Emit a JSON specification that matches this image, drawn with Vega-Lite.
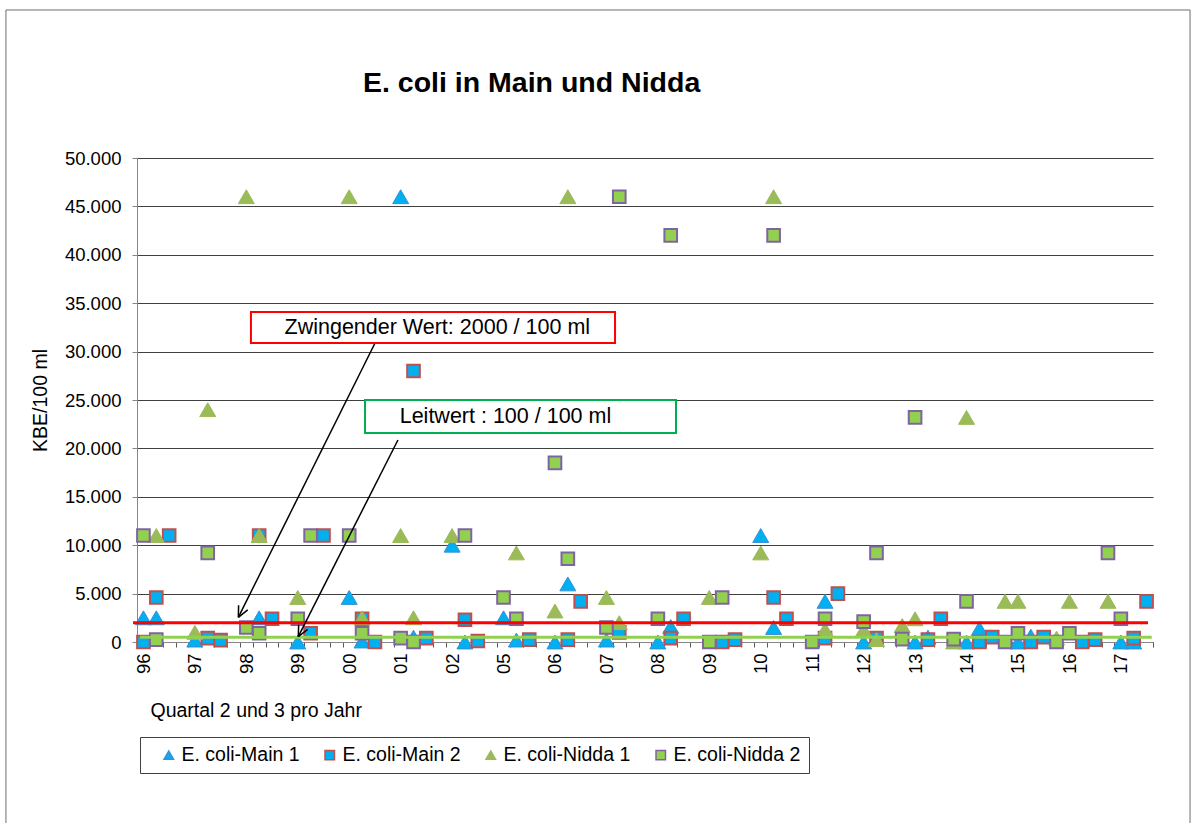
{
  "$schema": "https://vega.github.io/schema/vega-lite/v6.json",
  "width": 1016,
  "height": 484,
  "autosize": {"type": "none"},
  "padding": {"left": 137, "top": 158, "right": 44, "bottom": 181},
  "background": "white",
  "title": {"text": "E. coli in Main und Nidda", "anchor": "start", "frame": "group", "dx": 226, "offset": 0, "dy": 111.5, "font": "Liberation Sans", "fontSize": 28.5, "fontWeight": "bold", "color": "black", "baseline": "alphabetic"},
  "config": {"view": {"stroke": null}, "font": "Liberation Sans"},
  "resolve": {"axis": {"x": "independent"}},
  "datasets": {
    "pts": [
      {"s": "E. coli-Main 1", "k": 0, "v": 2500}, {"s": "E. coli-Main 1", "k": 1, "v": 2500}, {"s": "E. coli-Main 1", "k": 4, "v": 200}, {"s": "E. coli-Main 1", "k": 9, "v": 2500}, {"s": "E. coli-Main 1", "k": 12, "v": 0}, {"s": "E. coli-Main 1", "k": 16, "v": 4600}, {"s": "E. coli-Main 1", "k": 17, "v": 100}, {"s": "E. coli-Main 1", "k": 20, "v": 46000}, {"s": "E. coli-Main 1", "k": 21, "v": 500}, {"s": "E. coli-Main 1", "k": 24, "v": 10000}, {"s": "E. coli-Main 1", "k": 25, "v": 0}, {"s": "E. coli-Main 1", "k": 28, "v": 2500}, {"s": "E. coli-Main 1", "k": 29, "v": 200}, {"s": "E. coli-Main 1", "k": 32, "v": 0}, {"s": "E. coli-Main 1", "k": 33, "v": 6000}, {"s": "E. coli-Main 1", "k": 36, "v": 200}, {"s": "E. coli-Main 1", "k": 40, "v": 0}, {"s": "E. coli-Main 1", "k": 41, "v": 1600}, {"s": "E. coli-Main 1", "k": 48, "v": 11000}, {"s": "E. coli-Main 1", "k": 49, "v": 1500}, {"s": "E. coli-Main 1", "k": 53, "v": 4200}, {"s": "E. coli-Main 1", "k": 56, "v": 0}, {"s": "E. coli-Main 1", "k": 60, "v": 0}, {"s": "E. coli-Main 1", "k": 61, "v": 500}, {"s": "E. coli-Main 1", "k": 64, "v": 0}, {"s": "E. coli-Main 1", "k": 65, "v": 1400}, {"s": "E. coli-Main 1", "k": 68, "v": 0}, {"s": "E. coli-Main 1", "k": 69, "v": 600}, {"s": "E. coli-Main 1", "k": 76, "v": 0}, {"s": "E. coli-Main 1", "k": 77, "v": 0},
      {"s": "E. coli-Main 2", "k": 0, "v": 0}, {"s": "E. coli-Main 2", "k": 1, "v": 4600}, {"s": "E. coli-Main 2", "k": 2, "v": 11000}, {"s": "E. coli-Main 2", "k": 5, "v": 400}, {"s": "E. coli-Main 2", "k": 6, "v": 200}, {"s": "E. coli-Main 2", "k": 9, "v": 11000}, {"s": "E. coli-Main 2", "k": 10, "v": 2400}, {"s": "E. coli-Main 2", "k": 13, "v": 900}, {"s": "E. coli-Main 2", "k": 14, "v": 11000}, {"s": "E. coli-Main 2", "k": 17, "v": 2400}, {"s": "E. coli-Main 2", "k": 18, "v": 0}, {"s": "E. coli-Main 2", "k": 21, "v": 28000}, {"s": "E. coli-Main 2", "k": 22, "v": 400}, {"s": "E. coli-Main 2", "k": 25, "v": 2300}, {"s": "E. coli-Main 2", "k": 26, "v": 100}, {"s": "E. coli-Main 2", "k": 30, "v": 250}, {"s": "E. coli-Main 2", "k": 33, "v": 250}, {"s": "E. coli-Main 2", "k": 34, "v": 4200}, {"s": "E. coli-Main 2", "k": 37, "v": 1000}, {"s": "E. coli-Main 2", "k": 41, "v": 400}, {"s": "E. coli-Main 2", "k": 42, "v": 2400}, {"s": "E. coli-Main 2", "k": 45, "v": 0}, {"s": "E. coli-Main 2", "k": 46, "v": 250}, {"s": "E. coli-Main 2", "k": 49, "v": 4600}, {"s": "E. coli-Main 2", "k": 50, "v": 2400}, {"s": "E. coli-Main 2", "k": 53, "v": 400}, {"s": "E. coli-Main 2", "k": 54, "v": 5000}, {"s": "E. coli-Main 2", "k": 57, "v": 400}, {"s": "E. coli-Main 2", "k": 61, "v": 250}, {"s": "E. coli-Main 2", "k": 62, "v": 2400}, {"s": "E. coli-Main 2", "k": 65, "v": 0}, {"s": "E. coli-Main 2", "k": 66, "v": 500}, {"s": "E. coli-Main 2", "k": 69, "v": 0}, {"s": "E. coli-Main 2", "k": 70, "v": 500}, {"s": "E. coli-Main 2", "k": 73, "v": 0}, {"s": "E. coli-Main 2", "k": 74, "v": 250}, {"s": "E. coli-Main 2", "k": 77, "v": 400}, {"s": "E. coli-Main 2", "k": 78, "v": 4200},
      {"s": "E. coli-Nidda 1", "k": 1, "v": 11000}, {"s": "E. coli-Nidda 1", "k": 4, "v": 1000}, {"s": "E. coli-Nidda 1", "k": 5, "v": 24000}, {"s": "E. coli-Nidda 1", "k": 8, "v": 46000}, {"s": "E. coli-Nidda 1", "k": 9, "v": 11000}, {"s": "E. coli-Nidda 1", "k": 12, "v": 4600}, {"s": "E. coli-Nidda 1", "k": 16, "v": 46000}, {"s": "E. coli-Nidda 1", "k": 17, "v": 2500}, {"s": "E. coli-Nidda 1", "k": 20, "v": 11000}, {"s": "E. coli-Nidda 1", "k": 21, "v": 2500}, {"s": "E. coli-Nidda 1", "k": 24, "v": 11000}, {"s": "E. coli-Nidda 1", "k": 29, "v": 9200}, {"s": "E. coli-Nidda 1", "k": 32, "v": 3200}, {"s": "E. coli-Nidda 1", "k": 33, "v": 46000}, {"s": "E. coli-Nidda 1", "k": 36, "v": 4600}, {"s": "E. coli-Nidda 1", "k": 37, "v": 2000}, {"s": "E. coli-Nidda 1", "k": 44, "v": 4600}, {"s": "E. coli-Nidda 1", "k": 48, "v": 9200}, {"s": "E. coli-Nidda 1", "k": 49, "v": 46000}, {"s": "E. coli-Nidda 1", "k": 53, "v": 1300}, {"s": "E. coli-Nidda 1", "k": 56, "v": 1300}, {"s": "E. coli-Nidda 1", "k": 57, "v": 250}, {"s": "E. coli-Nidda 1", "k": 59, "v": 1700}, {"s": "E. coli-Nidda 1", "k": 60, "v": 2400}, {"s": "E. coli-Nidda 1", "k": 63, "v": 0}, {"s": "E. coli-Nidda 1", "k": 64, "v": 23200}, {"s": "E. coli-Nidda 1", "k": 67, "v": 4200}, {"s": "E. coli-Nidda 1", "k": 68, "v": 4200}, {"s": "E. coli-Nidda 1", "k": 71, "v": 400}, {"s": "E. coli-Nidda 1", "k": 72, "v": 4200}, {"s": "E. coli-Nidda 1", "k": 75, "v": 4200},
      {"s": "E. coli-Nidda 2", "k": 0, "v": 11000}, {"s": "E. coli-Nidda 2", "k": 1, "v": 250}, {"s": "E. coli-Nidda 2", "k": 5, "v": 9200}, {"s": "E. coli-Nidda 2", "k": 8, "v": 1500}, {"s": "E. coli-Nidda 2", "k": 9, "v": 900}, {"s": "E. coli-Nidda 2", "k": 12, "v": 2400}, {"s": "E. coli-Nidda 2", "k": 13, "v": 11000}, {"s": "E. coli-Nidda 2", "k": 16, "v": 11000}, {"s": "E. coli-Nidda 2", "k": 17, "v": 900}, {"s": "E. coli-Nidda 2", "k": 20, "v": 400}, {"s": "E. coli-Nidda 2", "k": 21, "v": 0}, {"s": "E. coli-Nidda 2", "k": 25, "v": 11000}, {"s": "E. coli-Nidda 2", "k": 28, "v": 4600}, {"s": "E. coli-Nidda 2", "k": 29, "v": 2400}, {"s": "E. coli-Nidda 2", "k": 32, "v": 18500}, {"s": "E. coli-Nidda 2", "k": 33, "v": 8600}, {"s": "E. coli-Nidda 2", "k": 36, "v": 1500}, {"s": "E. coli-Nidda 2", "k": 37, "v": 46000}, {"s": "E. coli-Nidda 2", "k": 40, "v": 2400}, {"s": "E. coli-Nidda 2", "k": 41, "v": 42000}, {"s": "E. coli-Nidda 2", "k": 44, "v": 0}, {"s": "E. coli-Nidda 2", "k": 45, "v": 4600}, {"s": "E. coli-Nidda 2", "k": 49, "v": 42000}, {"s": "E. coli-Nidda 2", "k": 52, "v": 0}, {"s": "E. coli-Nidda 2", "k": 53, "v": 2400}, {"s": "E. coli-Nidda 2", "k": 56, "v": 2100}, {"s": "E. coli-Nidda 2", "k": 57, "v": 9200}, {"s": "E. coli-Nidda 2", "k": 59, "v": 300}, {"s": "E. coli-Nidda 2", "k": 60, "v": 23200}, {"s": "E. coli-Nidda 2", "k": 63, "v": 300}, {"s": "E. coli-Nidda 2", "k": 64, "v": 4200}, {"s": "E. coli-Nidda 2", "k": 67, "v": 0}, {"s": "E. coli-Nidda 2", "k": 68, "v": 900}, {"s": "E. coli-Nidda 2", "k": 71, "v": 0}, {"s": "E. coli-Nidda 2", "k": 72, "v": 900}, {"s": "E. coli-Nidda 2", "k": 75, "v": 9200}, {"s": "E. coli-Nidda 2", "k": 76, "v": 2400}
    ],
    "frame": [{"k": -10.69, "v": 65292, "k2": 81.38, "v2": -19939}],
    "redline": [{"k": -0.81, "k2": 78.11, "v": 2000}],
    "greenline": [{"k": -0.27, "k2": 78.4, "v": 500}],
    "redbox": [{"k": 8.36, "k2": 36.67, "v": 34092, "v2": 30890, "label": "Zwingender Wert: 2000 / 100 ml", "tk": 22.85, "tv": 32439}],
    "greenbox": [{"k": 17.23, "k2": 41.41, "v": 25001, "v2": 21592, "label": "Leitwert : 100 / 100 ml", "tk": 28.15, "tv": 23245}],
    "arrows": [
      {"k": 18.01, "v": 30890, "k2": 7.38, "v2": 2552},
      {"k": 7.38, "v": 2552, "k2": 8.11, "v2": 3316},
      {"k": 7.38, "v": 2552, "k2": 7.40, "v2": 3791},
      {"k": 19.79, "v": 20869, "k2": 12.04, "v2": 548},
      {"k": 12.04, "v": 548, "k2": 12.77, "v2": 1312},
      {"k": 12.04, "v": 548, "k2": 12.07, "v2": 1787}
    ]
  },
  "layer": [
    {
      "data": {"name": "frame"},
      "mark": {"type": "rect", "fillOpacity": 0, "stroke": "#6e6e6e", "strokeWidth": 1},
      "encoding": {
        "x": {"field": "k", "type": "quantitative", "scale": {"domain": [-0.5, 78.5], "nice": false, "zero": false},
          "axis": {
            "orient": "bottom",
            "title": null,
            "values": [-0.5,0.5,1.5,2.5,3.5,4.5,5.5,6.5,7.5,8.5,9.5,10.5,11.5,12.5,13.5,14.5,15.5,16.5,17.5,18.5,19.5,20.5,21.5,22.5,23.5,24.5,25.5,26.5,27.5,28.5,29.5,30.5,31.5,32.5,33.5,34.5,35.5,36.5,37.5,38.5,39.5,40.5,41.5,42.5,43.5,44.5,45.5,46.5,47.5,48.5,49.5,50.5,51.5,52.5,53.5,54.5,55.5,56.5,57.5,58.5,59.5,60.5,61.5,62.5,63.5,64.5,65.5,66.5,67.5,68.5,69.5,70.5,71.5,72.5,73.5,74.5,75.5,76.5,77.5,78.5],
            "grid": false,
            "labels": false,
            "domainColor": "#868686",
            "tickColor": "#595959",
            "tickSize": 5
          }
        },
        "x2": {"field": "k2"},
        "y": {"field": "v", "type": "quantitative", "title": "KBE/100 ml", "scale": {"domain": [0, 50000], "nice": false, "zero": false},
          "axis": {
            "values": [0,5000,10000,15000,20000,25000,30000,35000,40000,45000,50000],
            "grid": true, "gridColor": "#404040", "gridWidth": 1,
            "domainColor": "#868686", "tickColor": "#868686", "tickSize": 5,
            "labelExpr": "replace(format(datum.value, ','), ',', '.')",
            "labelFontSize": 18.5, "labelPadding": 11, "labelColor": "black", "labelFont": "Liberation Sans",
            "titleX": -97, "titleY": 242, "titleAngle": -90, "titleAlign": "center", "titleBaseline": "middle",
            "titleFontSize": 19.5, "titleFontWeight": "normal", "titleColor": "black", "titleFont": "Liberation Sans"
          }
        },
        "y2": {"field": "v2"}
      }
    },
    {
      "data": {"name": "pts"},
      "transform": [{"filter": "datum.s === 'E. coli-Main 1'"}],
      "mark": {"type": "point", "filled": true, "size": 256, "strokeWidth": 1, "opacity": 1},
      "encoding": {
        "x": {"field": "k", "type": "quantitative",
          "axis": {
            "orient": "bottom",
            "title": "Quartal 2 und 3 pro Jahr",
            "values": [0,4,8,12,16,20,24,28,32,36,40,44,48,52,56,60,64,68,72,76],
            "grid": false, "domain": false,
            "tickSize": 5, "tickOpacity": 0,
            "labelExpr": "['96','97','98','99','00','01','02','05','06','07','08','09','10','11','12','13','14','15','16','17'][round(datum.value / 4)]",
            "labelAngle": -90, "labelAlign": "right", "labelBaseline": "middle",
            "labelPadding": 6, "labelFontSize": 18.5, "labelColor": "black", "labelFont": "Liberation Sans",
            "labelOverlap": false, "labelFlush": false,
            "titleX": 13, "titleY": 68, "titleAlign": "left", "titleBaseline": "middle", "titleAngle": 0,
            "titleFontSize": 19.5, "titleFontWeight": "normal", "titleColor": "black", "titleFont": "Liberation Sans"
          }
        },
        "y": {"field": "v", "type": "quantitative"},
        "shape": {"field": "s", "type": "nominal",
          "scale": {"domain": ["E. coli-Main 1", "E. coli-Main 2", "E. coli-Nidda 1", "E. coli-Nidda 2"], "range": ["triangle-up", "square", "triangle-up", "square"]},
          "legend": {"orient": "none", "legendX": 3, "legendY": 579, "direction": "horizontal", "title": null,
            "strokeColor": "#404040", "fillColor": "white", "padding": 8,
            "symbolOffset": 11, "labelOffset": 3, "columnPadding": 9, "labelFontSize": 19.5, "labelFont": "Liberation Sans",
            "labelColor": "black", "symbolSize": 90, "symbolStrokeWidth": 1.5, "labelLimit": 300}
        },
        "fill": {"field": "s", "type": "nominal",
          "scale": {"domain": ["E. coli-Main 1", "E. coli-Main 2", "E. coli-Nidda 1", "E. coli-Nidda 2"], "range": ["#00B0F0", "#00B0F0", "#9BBB59", "#92D050"]}},
        "stroke": {"field": "s", "type": "nominal",
          "scale": {"domain": ["E. coli-Main 1", "E. coli-Main 2", "E. coli-Nidda 1", "E. coli-Nidda 2"], "range": ["#3A8FD8", "#C0504D", "#9BBB59", "#8064A2"]}}
      }
    },
    {
      "data": {"name": "pts"},
      "transform": [{"filter": "datum.s === 'E. coli-Main 2'"}],
      "mark": {"type": "point", "filled": true, "size": 160, "strokeWidth": 2, "opacity": 1},
      "encoding": {
        "x": {"field": "k", "type": "quantitative", "axis": null},
        "y": {"field": "v", "type": "quantitative"},
        "shape": {"field": "s", "type": "nominal"},
        "fill": {"field": "s", "type": "nominal"},
        "stroke": {"field": "s", "type": "nominal"}
      }
    },
    {
      "data": {"name": "pts"},
      "transform": [{"filter": "datum.s === 'E. coli-Nidda 1'"}],
      "mark": {"type": "point", "filled": true, "size": 256, "strokeWidth": 1, "opacity": 1},
      "encoding": {
        "x": {"field": "k", "type": "quantitative", "axis": null},
        "y": {"field": "v", "type": "quantitative"},
        "shape": {"field": "s", "type": "nominal"},
        "fill": {"field": "s", "type": "nominal"},
        "stroke": {"field": "s", "type": "nominal"}
      }
    },
    {
      "data": {"name": "pts"},
      "transform": [{"filter": "datum.s === 'E. coli-Nidda 2'"}],
      "mark": {"type": "point", "filled": true, "size": 160, "strokeWidth": 2, "opacity": 1},
      "encoding": {
        "x": {"field": "k", "type": "quantitative", "axis": null},
        "y": {"field": "v", "type": "quantitative"},
        "shape": {"field": "s", "type": "nominal"},
        "fill": {"field": "s", "type": "nominal"},
        "stroke": {"field": "s", "type": "nominal"}
      }
    },
    {
      "data": {"name": "redline"},
      "mark": {"type": "rule", "color": "#FF0000", "strokeWidth": 3},
      "encoding": {
        "x": {"field": "k", "type": "quantitative", "axis": null},
        "x2": {"field": "k2"},
        "y": {"field": "v", "type": "quantitative"}
      }
    },
    {
      "data": {"name": "greenline"},
      "mark": {"type": "rule", "color": "#92D050", "strokeWidth": 3},
      "encoding": {
        "x": {"field": "k", "type": "quantitative", "axis": null},
        "x2": {"field": "k2"},
        "y": {"field": "v", "type": "quantitative"}
      }
    },
    {
      "data": {"name": "arrows"},
      "mark": {"type": "rule", "color": "black", "strokeWidth": 1.5},
      "encoding": {
        "x": {"field": "k", "type": "quantitative", "axis": null},
        "x2": {"field": "k2"},
        "y": {"field": "v", "type": "quantitative"},
        "y2": {"field": "v2"}
      }
    },
    {
      "data": {"name": "redbox"},
      "mark": {"type": "rect", "fill": "white", "stroke": "#FF0000", "strokeWidth": 2},
      "encoding": {
        "x": {"field": "k", "type": "quantitative", "axis": null},
        "x2": {"field": "k2"},
        "y": {"field": "v", "type": "quantitative"},
        "y2": {"field": "v2"}
      }
    },
    {
      "data": {"name": "greenbox"},
      "mark": {"type": "rect", "fill": "white", "stroke": "#00B050", "strokeWidth": 2},
      "encoding": {
        "x": {"field": "k", "type": "quantitative", "axis": null},
        "x2": {"field": "k2"},
        "y": {"field": "v", "type": "quantitative"},
        "y2": {"field": "v2"}
      }
    },
    {
      "data": {"name": "redbox"},
      "mark": {"type": "text", "font": "Liberation Sans", "fontSize": 21.5, "color": "black", "align": "center", "baseline": "middle"},
      "encoding": {
        "x": {"field": "tk", "type": "quantitative", "axis": null},
        "y": {"field": "tv", "type": "quantitative"},
        "text": {"field": "label"}
      }
    },
    {
      "data": {"name": "greenbox"},
      "mark": {"type": "text", "font": "Liberation Sans", "fontSize": 21.5, "color": "black", "align": "center", "baseline": "middle"},
      "encoding": {
        "x": {"field": "tk", "type": "quantitative", "axis": null},
        "y": {"field": "tv", "type": "quantitative"},
        "text": {"field": "label"}
      }
    }
  ]
}
